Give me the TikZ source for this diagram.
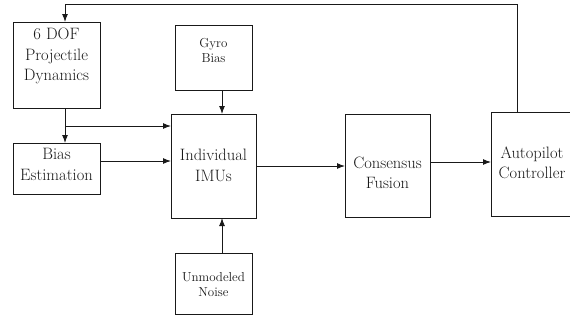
\documentclass[tikz,border=0pt]{standalone}
\usetikzlibrary{arrows.meta}
\begin{document}
\begin{tikzpicture}[x=1pt,y=-1pt,
  box/.style={draw=black!90,line width=1pt},
  big/.style={font=\fontsize{16.5}{20.5}\selectfont,text=black!90,align=center,inner sep=0pt},
  small/.style={font=\fontsize{13}{15}\selectfont,text=black!90,align=center,inner sep=0pt},
  arr/.style={draw=black!90,line width=1pt,-{Latex[length=8pt,width=6pt]}},
  ln/.style={draw=black!90,line width=1pt}]
\useasboundingbox (0,0) rectangle (570,324);
% boxes
\path[box] (13,22) rectangle (100,108);
\coordinate (dofTop) at (65,22);
\coordinate (dofBot) at (65,108);
\path[box] (175,25) rectangle (252,90);
\coordinate (gyroBot) at (222,90);
\path[box] (13,143) rectangle (100,194);
\coordinate (biasTop) at (65,143);
\coordinate (biasR) at (100,161);
\path[box] (171,114) rectangle (256,218);
\coordinate (imuTop) at (222,114);
\coordinate (imuBot) at (222,218);
\coordinate (imuL1) at (171,126);
\coordinate (imuL2) at (171,161);
\coordinate (imuR) at (256,166);
\path[box] (175,253) rectangle (252,314);
\coordinate (noiseTop) at (222,253);
\path[box] (345,114) rectangle (430,217);
\coordinate (consL) at (345,166);
\coordinate (consR) at (430,162);
\path[box] (491,112) rectangle (585,216);
\coordinate (autoL) at (491,162);
\coordinate (autoTop) at (517,112);
\coordinate (branch) at (65,126);
% texts
\node[big] (tdof) at (56.5,56) {6 DOF\\Projectile\\Dynamics};
\node[small] (tgyro) at (213.5,50.5) {Gyro\\Bias};
\node[big] (tbias) at (56.5,164.5) {Bias\\Estimation};
\node[big] (timu) at (213.5,165.5) {Individual\\IMUs};
\node[small] (tnoise) at (213.5,284.5) {Unmodeled\\Noise};
\node[big] (tcons) at (387.5,173) {Consensus\\Fusion};
\node[big] (tauto) at (532,163) {Autopilot\\Controller};
% connectors
\draw[arr] (autoTop) -- (517,4) -- (65,4) -- (dofTop);
\draw[arr] (dofBot) -- (biasTop);
\draw[arr] (branch) -- (imuL1);
\draw[arr] (biasR) -- (imuL2);
\draw[arr] (gyroBot) -- (imuTop);
\draw[arr] (noiseTop) -- (imuBot);
\draw[arr] (imuR) -- (consL);
\draw[arr] (consR) -- (autoL);
\end{tikzpicture}
\end{document}
